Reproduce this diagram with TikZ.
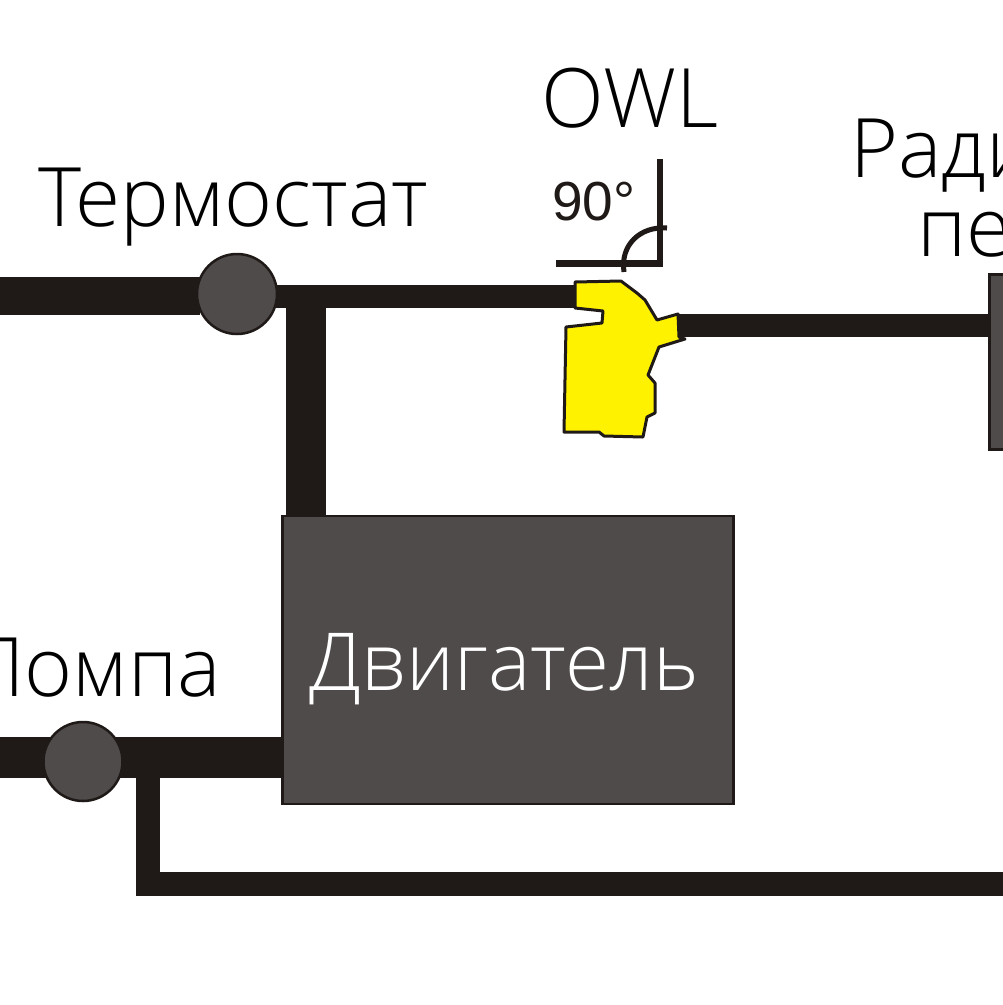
\documentclass[tikz,border=0pt]{standalone}
\usepackage{fontspec}
\setmainfont{Open Sans}[UprightFont={* Light}]
\newfontfamily\arialf{Liberation Sans}
\definecolor{pipec}{HTML}{1F1A17}
\definecolor{bodyc}{HTML}{4F4B4A}
\definecolor{yellowc}{HTML}{FFF200}
\tikzset{
 pipe/.style={fill=pipec,draw=none},
 unit/.style={draw=pipec,fill=bodyc,line width=2.5pt},
 pumpc/.style={circle,draw=pipec,fill=bodyc,line width=2.5pt,inner sep=0pt,minimum size=#1},
 lab/.style={inner sep=0pt,anchor=base west,text=black,font=\fontsize{82}{82}\selectfont},
}
\begin{document}
\begin{tikzpicture}[x=1pt,y=-1pt]
\useasboundingbox (0,0) rectangle (1003,1005);
\clip (0,0) rectangle (1003,1005);
% pipes
\fill[pipe] (0,277) rectangle (200,315);
\fill[pipe] (240,285) rectangle (578,308);
\fill[pipe] (286,300) rectangle (326,520);
\fill[pipe] (0,737) rectangle (285,778);
\fill[pipe] (136,770) rectangle (160,896);
\fill[pipe] (136,872) rectangle (1003,896);
\fill[pipe] (676,314) rectangle (992,337);
% units
\node[unit,minimum width=451pt,minimum height=288pt,inner sep=0pt,anchor=north west] (engine) at (281,514.5) {};
\node[text=white,font=\fontsize{80}{80}\selectfont,inner sep=0pt,anchor=base] (enginelabel) at (504,690) {Двигатель};
\draw[unit] (989.5,274.5) rectangle (1010,449.5);
\node[pumpc=80pt] (thermo) at (237,294) {};
\node[pumpc=79pt] (pump) at (83,761.5) {};
% thermostat part
\filldraw[fill=yellowc,draw=pipec,line width=3pt,line join=round]
 (575,282) -- (621,281) -- (637,293) -- (645,300) -- (657,320) -- (678,314) -- (679,337) -- (685,339) -- (659,347) -- (648,375) -- (655,383) -- (655,413) -- (647,417) -- (643,437) -- (604,436) -- (599,432) -- (564,432) -- (566,327) -- (602,323) -- (603,311) -- (575,308) -- cycle;
% angle
\fill[pipe] (657,159) rectangle (663,267);
\fill[pipe] (556,260) rectangle (663,267);
\draw[pipec,line width=5pt] (667,228) .. controls (640,226) and (620,245) .. (624,272);
\node[inner sep=0pt,anchor=base west,font=\arialf\fontsize{55}{55}\selectfont,text=pipec] (angle) at (552,220) {90°};
% labels
\node[lab] (owl) at (541,127) {OWL};
\node[lab] (termo) at (38,226) {Термостат};
\node[lab] (pompa) at (-34,696) {Помпа};
\node[lab] (rad1) at (850,177) {Ради};
\node[lab] (rad2) at (917,256) {пе};
\end{tikzpicture}
\end{document}
